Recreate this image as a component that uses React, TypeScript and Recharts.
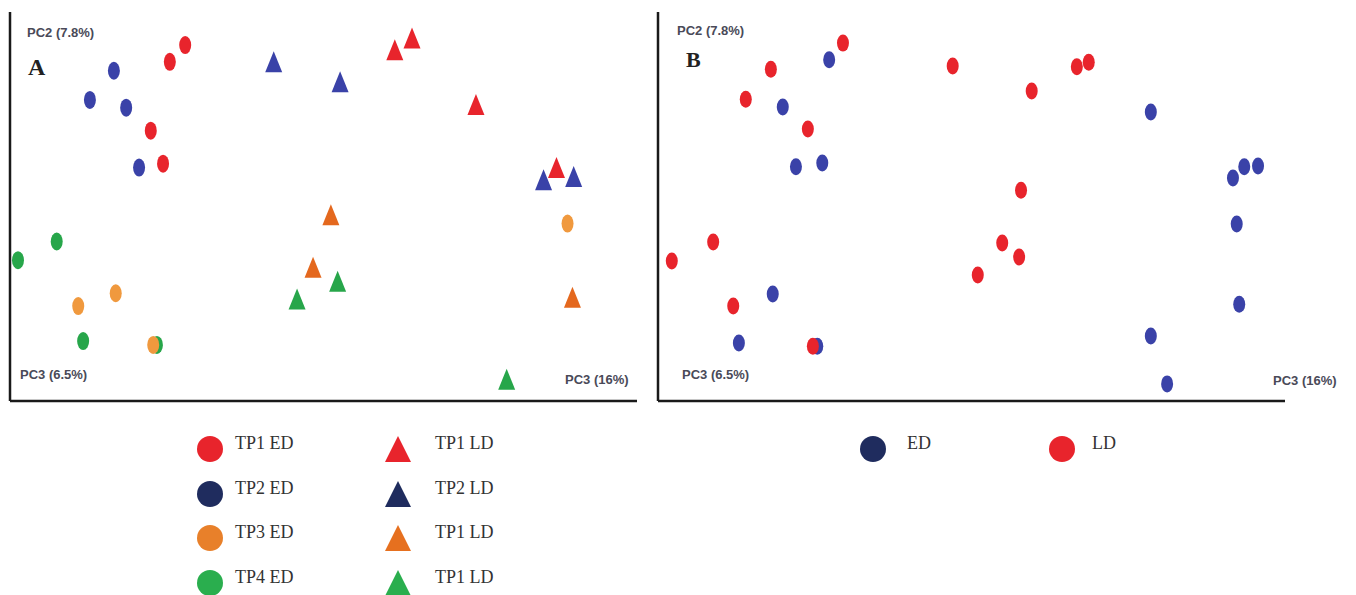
import { Scatter, ScatterChart, XAxis, YAxis, ZAxis } from "recharts";

// PCA scores, scaled 0-100 on each plotted component.
const tp1Ed = [
  { x: 28.5, y: 91.5 },
  { x: 26.0, y: 87.2 },
  { x: 22.9, y: 69.5 },
  { x: 24.9, y: 61.0 },
];
const tp2Ed = [
  { x: 16.9, y: 84.9 },
  { x: 13.0, y: 77.4 },
  { x: 18.9, y: 75.4 },
  { x: 21.0, y: 60.0 },
];
const tp3Ed = [
  { x: 11.1, y: 24.4 },
  { x: 17.2, y: 27.7 },
  { x: 90.7, y: 45.6 },
  { x: 23.3, y: 14.4 },
];
const tp4Ed = [
  { x: 7.6, y: 41.0 },
  { x: 1.3, y: 36.2 },
  { x: 11.9, y: 15.4 },
  { x: 23.9, y: 14.4 },
];
const tp1Ld = [
  { x: 62.6, y: 90.3 },
  { x: 65.4, y: 93.3 },
  { x: 75.8, y: 76.2 },
  { x: 88.9, y: 60.0 },
];
const tp2Ld = [
  { x: 42.9, y: 87.2 },
  { x: 53.7, y: 82.1 },
  { x: 86.8, y: 56.9 },
  { x: 91.7, y: 57.7 },
];
const tp3Ld = [
  { x: 52.2, y: 47.9 },
  { x: 49.3, y: 34.4 },
  { x: 91.5, y: 26.7 },
];
const tp4Ld = [
  { x: 46.7, y: 26.2 },
  { x: 53.3, y: 30.8 },
  { x: 80.8, y: 5.6 },
];

const allEd = [
  { x: 27.3, y: 87.7 },
  { x: 19.9, y: 75.6 },
  { x: 22.0, y: 60.2 },
  { x: 26.2, y: 61.2 },
  { x: 78.6, y: 74.3 },
  { x: 91.7, y: 57.3 },
  { x: 93.5, y: 60.2 },
  { x: 95.7, y: 60.4 },
  { x: 18.3, y: 27.5 },
  { x: 12.9, y: 14.9 },
  { x: 25.4, y: 14.1 },
  { x: 92.3, y: 45.5 },
  { x: 92.7, y: 24.9 },
  { x: 78.6, y: 16.7 },
  { x: 81.2, y: 4.4 },
];
const allLd = [
  { x: 29.5, y: 92.0 },
  { x: 18.0, y: 85.3 },
  { x: 14.0, y: 77.6 },
  { x: 23.9, y: 69.9 },
  { x: 47.0, y: 86.1 },
  { x: 66.8, y: 85.9 },
  { x: 68.7, y: 87.1 },
  { x: 59.6, y: 79.7 },
  { x: 57.9, y: 54.2 },
  { x: 2.2, y: 36.0 },
  { x: 8.8, y: 40.9 },
  { x: 12.0, y: 24.4 },
  { x: 24.7, y: 14.1 },
  { x: 51.0, y: 32.4 },
  { x: 54.9, y: 40.6 },
  { x: 57.6, y: 37.0 },
];

const legendA = [
  { label: "TP1 ED", shape: "circle", color: "#e8242c" },
  { label: "TP1 LD", shape: "triangle", color: "#e8242c" },
  { label: "TP2 ED", shape: "circle", color: "#1f2c5e" },
  { label: "TP2 LD", shape: "triangle", color: "#1f2c5e" },
  { label: "TP3 ED", shape: "circle", color: "#e8802a" },
  { label: "TP1 LD", shape: "triangle", color: "#e6701f" },
  { label: "TP4 ED", shape: "circle", color: "#2aae4e" },
  { label: "TP1 LD", shape: "triangle", color: "#2aae4e" },
];
const legendB = [
  { label: "ED", color: "#1f2c5e" },
  { label: "LD", color: "#e8242c" },
];

const RED = "#e8242c";
const BLUE = "#3a42a8";
const ORANGE_DOT = "#f0993e";
const ORANGE_TRI = "#e4681e";
const GREEN = "#27a64a";

const SANS = "'Liberation Sans', Arial, sans-serif";
const SERIF = "'Liberation Serif', 'Times New Roman', serif";

const dot = (rx: number, ry: number) => (props: any) => {
  const { cx, cy, fill } = props;
  if (cx == null || cy == null) return <g />;
  return <ellipse cx={cx} cy={cy} rx={rx} ry={ry} fill={fill} />;
};

const tri = (props: any) => {
  const { cx, cy, fill } = props;
  if (cx == null || cy == null) return <g />;
  const hw = 8.5;
  const hh = 10.5;
  return (
    <polygon
      points={`${cx},${cy - hh} ${cx + hw},${cy + hh} ${cx - hw},${cy + hh}`}
      fill={fill}
    />
  );
};

const axisLine = { stroke: "#1a1a1a", strokeWidth: 2.5 };

function Axes({ xMax }: { xMax: number }) {
  return (
    <>
      <XAxis
        type="number"
        dataKey="x"
        domain={[0, xMax]}
        tick={false}
        tickLine={false}
        axisLine={axisLine}
        height={1}
      />
      <YAxis
        type="number"
        dataKey="y"
        domain={[0, 100]}
        tick={false}
        tickLine={false}
        axisLine={axisLine}
        width={1}
      />
      <ZAxis range={[60, 60]} />
    </>
  );
}

function Text({
  x,
  y,
  children,
  size,
  font,
  weight,
  color,
}: {
  x: number;
  y: number;
  children: string;
  size: number;
  font: string;
  weight?: number;
  color: string;
}) {
  return (
    <div
      style={{
        position: "absolute",
        left: x,
        top: y,
        fontSize: size,
        fontFamily: font,
        fontWeight: weight ?? 400,
        color,
        lineHeight: 1,
        whiteSpace: "nowrap",
      }}
    >
      {children}
    </div>
  );
}

function LegendIcon({ shape, color }: { shape: string; color: string }) {
  return (
    <svg width={28} height={28} style={{ display: "block" }}>
      {shape === "circle" ? (
        <circle cx={14} cy={14} r={13} fill={color} />
      ) : (
        <polygon points="14,1 27,27 1,27" fill={color} />
      )}
    </svg>
  );
}

export default function App() {
  const labelColor = "#4a4a58";
  return (
    <div
      style={{
        position: "absolute",
        left: 0,
        top: 0,
        width: 1356,
        height: 595,
        background: "#fff",
        overflow: "hidden",
      }}
    >
      <div style={{ position: "absolute", left: 0, top: 0 }}>
        <ScatterChart
          width={650}
          height={410}
          margin={{ top: 12, right: 13, bottom: 8, left: 9 }}
        >
          <Axes xMax={102} />
          <Scatter data={tp1Ed} fill={RED} shape={dot(6, 9)} isAnimationActive={false} />
          <Scatter data={tp2Ed} fill={BLUE} shape={dot(6, 9)} isAnimationActive={false} />
          <Scatter data={tp4Ed} fill={GREEN} shape={dot(6, 9)} isAnimationActive={false} />
          <Scatter data={tp3Ed} fill={ORANGE_DOT} shape={dot(6, 9)} isAnimationActive={false} />
          <Scatter data={tp1Ld} fill={RED} shape={tri} isAnimationActive={false} />
          <Scatter data={tp2Ld} fill={BLUE} shape={tri} isAnimationActive={false} />
          <Scatter data={tp3Ld} fill={ORANGE_TRI} shape={tri} isAnimationActive={false} />
          <Scatter data={tp4Ld} fill={GREEN} shape={tri} isAnimationActive={false} />
        </ScatterChart>
      </div>

      <div style={{ position: "absolute", left: 640, top: 0 }}>
        <ScatterChart
          width={660}
          height={410}
          margin={{ top: 12, right: 15, bottom: 8, left: 17 }}
        >
          <Axes xMax={100} />
          <Scatter data={allEd} fill={BLUE} shape={dot(6, 8.5)} isAnimationActive={false} />
          <Scatter data={allLd} fill={RED} shape={dot(6, 8.5)} isAnimationActive={false} />
        </ScatterChart>
      </div>

      {/* panel labels and component names */}
      <Text x={27} y={26} size={13} font={SANS} weight={700} color={labelColor}>
        PC2 (7.8%)
      </Text>
      <Text x={28} y={55} size={24} font={SERIF} weight={700} color="#222">
        A
      </Text>
      <Text x={20} y={368} size={13} font={SANS} weight={700} color={labelColor}>
        PC3 (6.5%)
      </Text>
      <Text x={565} y={373} size={13} font={SANS} weight={700} color={labelColor}>
        PC3 (16%)
      </Text>

      <Text x={677} y={24} size={13} font={SANS} weight={700} color={labelColor}>
        PC2 (7.8%)
      </Text>
      <Text x={686} y={49} size={22} font={SERIF} weight={700} color="#222">
        B
      </Text>
      <Text x={682} y={368} size={13} font={SANS} weight={700} color={labelColor}>
        PC3 (6.5%)
      </Text>
      <Text x={1273} y={374} size={13} font={SANS} weight={700} color={labelColor}>
        PC3 (16%)
      </Text>

      {/* legend for panel A: two columns of four */}
      {legendA.map((item, i) => {
        const col = i % 2;
        const row = Math.floor(i / 2);
        const iconX = col === 0 ? 196 : 384;
        const textX = col === 0 ? 235 : 435;
        const cy = 449 + row * 44.5;
        return (
          <div key={i}>
            <div style={{ position: "absolute", left: iconX, top: cy - 14 }}>
              <LegendIcon shape={item.shape} color={item.color} />
            </div>
            <Text x={textX} y={cy - 15} size={18} font={SERIF} color="#333">
              {item.label}
            </Text>
          </div>
        );
      })}

      {/* legend for panel B */}
      {legendB.map((item, i) => {
        const iconX = i === 0 ? 859 : 1048;
        const textX = i === 0 ? 907 : 1092;
        return (
          <div key={item.label}>
            <div style={{ position: "absolute", left: iconX, top: 435 }}>
              <LegendIcon shape="circle" color={item.color} />
            </div>
            <Text x={textX} y={434} size={18} font={SERIF} color="#333">
              {item.label}
            </Text>
          </div>
        );
      })}
    </div>
  );
}
